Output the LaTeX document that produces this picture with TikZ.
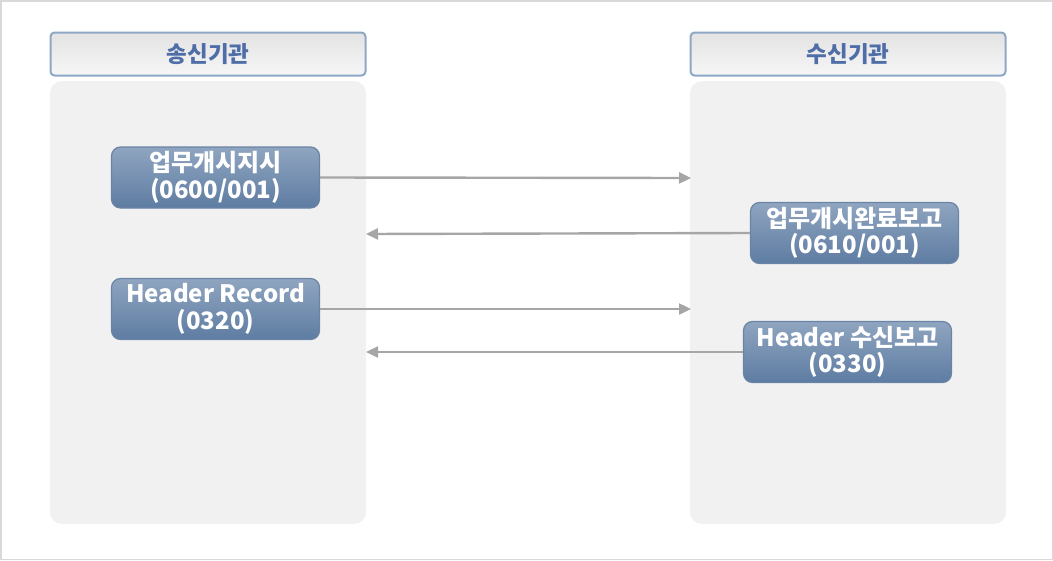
\documentclass[tikz,border=0pt]{standalone}
\usepackage{fontspec}
\setmainfont{Noto Sans CJK KR}
\usetikzlibrary{arrows.meta}
\definecolor{frame}{HTML}{D9D9D9}
\definecolor{lanefill}{HTML}{F1F1F1}
\definecolor{hdrline}{HTML}{8CA8C4}
\definecolor{hdrtop}{HTML}{E3E3E3}
\definecolor{hdrbot}{HTML}{F6F6F6}
\definecolor{hdrtext}{HTML}{4F6EA8}
\definecolor{boxtop}{HTML}{8FA5C0}
\definecolor{boxbot}{HTML}{5E7CA2}
\definecolor{boxline}{HTML}{6A84A5}
\definecolor{arrowgray}{HTML}{A6A6A6}
\tikzset{
  lane/.style={fill=lanefill, draw=none, rounded corners=12pt},
  hdr/.style={draw=hdrline, line width=2pt, rounded corners=4pt, top color=hdrtop, bottom color=hdrbot,
    minimum width=315pt, minimum height=43pt, inner sep=0pt, font=\fontsize{22.5pt}{26pt}\selectfont\bfseries, text=hdrtext},
  msg/.style={draw=boxline, line width=1.2pt, rounded corners=9pt, top color=boxtop, bottom color=boxbot,
    minimum width=208pt, minimum height=61pt, inner sep=0pt, align=center, text=white,
    font=\fontsize{24pt}{26.5pt}\selectfont\bfseries},
  flow/.style={draw=arrowgray, line width=2.4pt, -{Triangle[length=12pt,width=11pt]}}
}
\begin{document}
\begin{tikzpicture}[x=1pt,y=-1pt]
\useasboundingbox (0,0) rectangle (1053,560);
\draw[frame, line width=1.5pt] (0.75,0.75) rectangle (1052.25,559.25);
% lanes
\path[lane] (50,81) rectangle (366,524);
\path[lane] (690,81) rectangle (1006,524);
% headers
\node[hdr] (h1) at (208,54) {송신기관};
\node[hdr] (h2) at (848,54) {수신기관};
% message boxes
\node[msg] (m1) at (215.5,177.5) {업무개시지시\\(0600/001)};
\node[msg] (m2) at (854.5,233) {업무개시완료보고\\(0610/001)};
\node[msg] (m3) at (215.5,309) {Header Record\\(0320)};
\node[msg] (m4) at (847.5,352) {Header 수신보고\\(0330)};
% lane edge coordinates
\coordinate (r1) at (691,178);
\coordinate (l2) at (366,234);
\coordinate (r3) at (691,309);
\coordinate (l4) at (366,352);
\draw[flow] (m1.east) -- (r1);
\draw[flow] (m2.west) -- (l2);
\draw[flow] (m3.east) -- (r3);
\draw[flow] (m4.west) -- (l4);
\end{tikzpicture}
\end{document}
